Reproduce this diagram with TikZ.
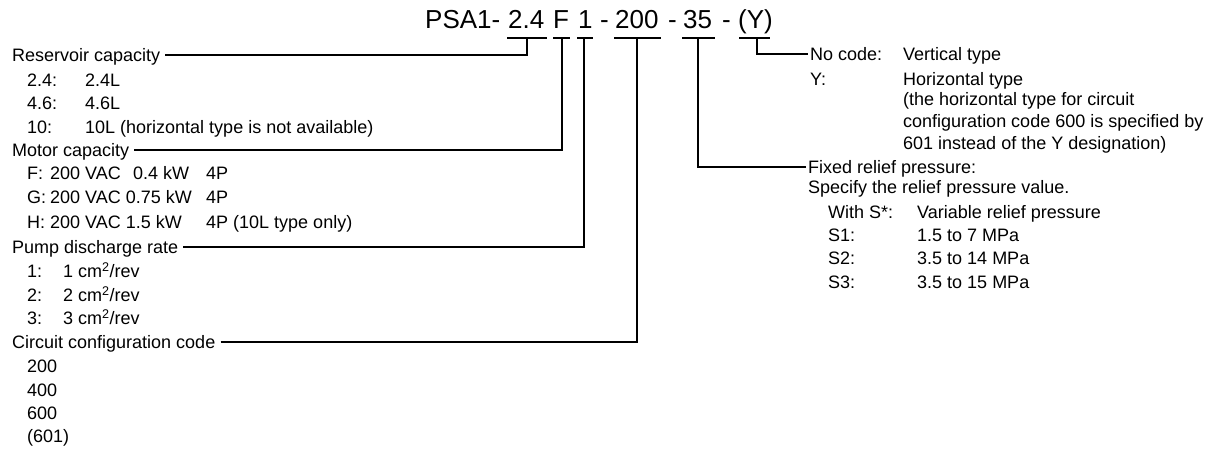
\documentclass[tikz,border=0pt]{standalone}
\usepackage{fontspec}
\setmainfont{Liberation Sans}
\begin{document}
\begin{tikzpicture}[x=1pt,y=-1pt,
  txt/.style={anchor=west, inner sep=0pt, text height=12.9pt, text depth=0pt, font=\fontsize{18}{22}\selectfont},
  ttl/.style={anchor=west, inner sep=0pt, text height=18.6pt, text depth=0pt, font=\fontsize{26}{30}\selectfont},
  lead/.style={line width=1.6pt}]
\useasboundingbox (0,0) rectangle (1223,448);

% title
\node[ttl] (tpsa) at (425,18.7) {PSA1-};
\node[ttl] (t24) at (508,18.7) {2.4};
\node[ttl] (tF) at (553,18.7) {F};
\node[ttl] (t1) at (578,18.7) {1};
\node[ttl] (td1) at (600,18.7) {-};
\node[ttl] (t200) at (615,18.7) {200};
\node[ttl] (td2) at (668,18.7) {-};
\node[ttl] (t35) at (683,18.7) {35};
\node[ttl] (td3) at (722,18.7) {-};
\node[ttl] (tY) at (738,18.7) {(Y)};

% underlines
\draw[lead] (507,38) -- (547,38);
\draw[lead] (553,38) -- (570,38);
\draw[lead] (577,38) -- (593,38);
\draw[lead] (614,38) -- (661,38);
\draw[lead] (682,38) -- (715,38);
\draw[lead] (739,38) -- (770,38);
\coordinate (u24) at (527,38);
\coordinate (uF) at (562,38);
\coordinate (u1) at (584,38);
\coordinate (u200) at (637,38);
\coordinate (u35) at (698,38);
\coordinate (uY) at (757,38);

% left column
\node[txt] (res) at (12,55) {Reservoir capacity};
\node[txt] (r1a) at (27,80) {2.4:};  \node[txt] (r1b) at (85,80) {2.4L};
\node[txt] (r2a) at (27,103) {4.6:}; \node[txt] (r2b) at (85,103) {4.6L};
\node[txt] (r3a) at (27,127) {10:};  \node[txt] (r3b) at (85,127) {10L (horizontal type is not available)};

\node[txt] (mot) at (12,150) {Motor capacity};
\node[txt] (m1a) at (27,173) {F:}; \node[txt] (m1b) at (50,173) {200 VAC}; \node[txt] (m1c) at (133,173) {0.4 kW}; \node[txt] (m1d) at (206,173) {4P};
\node[txt] (m2a) at (27,197) {G:}; \node[txt] (m2b) at (50,197) {200 VAC 0.75 kW}; \node[txt] (m2d) at (206,197) {4P};
\node[txt] (m3a) at (27,222) {H:}; \node[txt] (m3b) at (50,222) {200 VAC 1.5 kW}; \node[txt] (m3d) at (206,222) {4P (10L type only)};

\node[txt] (pmp) at (12,247) {Pump discharge rate};
\node[txt] (p1a) at (27,271) {1:}; \node[txt] (p1b) at (63,271) {1 cm\textsuperscript{2}/rev};
\node[txt] (p2a) at (27,295) {2:}; \node[txt] (p2b) at (63,295) {2 cm\textsuperscript{2}/rev};
\node[txt] (p3a) at (27,318) {3:}; \node[txt] (p3b) at (63,318) {3 cm\textsuperscript{2}/rev};

\node[txt] (cir) at (12,342) {Circuit configuration code};
\node[txt] (c1) at (27,366) {200};
\node[txt] (c2) at (27,390) {400};
\node[txt] (c3) at (27,413) {600};
\node[txt] (c4) at (27,436) {(601)};

% right column
\node[txt] (noc) at (810,54) {No code:}; \node[txt] (nocb) at (903,54) {Vertical type};
\node[txt] (ya) at (810,79) {Y:}; \node[txt] (yb) at (903,79) {Horizontal type};
\node[txt] (yc) at (903,99) {(the horizontal type for circuit};
\node[txt] (yd) at (903,121) {configuration code 600 is specified by};
\node[txt] (ye) at (903,143) {601 instead of the Y designation)};

\node[txt] (fix) at (808,167) {Fixed relief pressure:};
\node[txt] (spec) at (808,187) {Specify the relief pressure value.};
\node[txt] (s0a) at (828,212) {With S*:}; \node[txt] (s0b) at (917,212) {Variable relief pressure};
\node[txt] (s1a) at (828,235) {S1:}; \node[txt] (s1b) at (917,235) {1.5 to 7 MPa};
\node[txt] (s2a) at (828,258) {S2:}; \node[txt] (s2b) at (917,258) {3.5 to 14 MPa};
\node[txt] (s3a) at (828,282) {S3:}; \node[txt] (s3b) at (917,282) {3.5 to 15 MPa};

% leader lines
\draw[lead] ([xshift=5pt]res.east) -| (u24);
\draw[lead] ([xshift=5pt]mot.east) -| (uF);
\draw[lead] ([xshift=5pt]pmp.east) -| (u1);
\draw[lead] ([xshift=5pt]cir.east) -| (u200);
\draw[lead] (u35) |- ([xshift=-2pt]fix.west);
\draw[lead] (uY) |- ([xshift=-2pt]noc.west);
\end{tikzpicture}
\end{document}
